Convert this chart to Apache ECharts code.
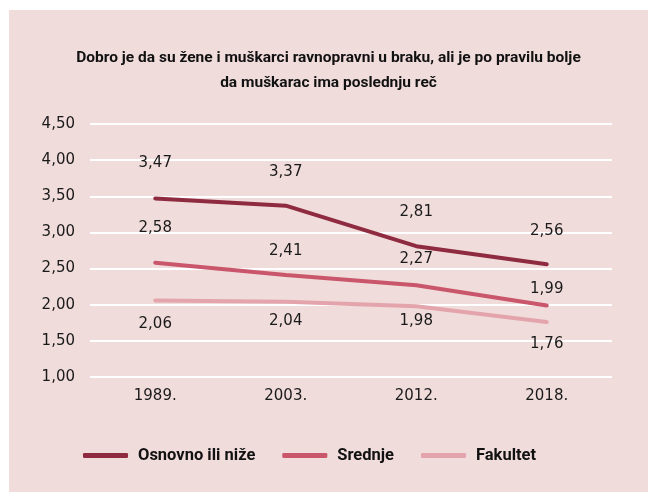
<!DOCTYPE html>
<html>
<head>
<meta charset="utf-8">
<script src="https://cdn.jsdelivr.net/npm/echarts@6/dist/echarts.min.js"></script>
<style>
  html, body { margin: 0; padding: 0; background: #fff; }
  #chart { position: absolute; left: 9px; top: 10px; width: 639px; height: 482px; background: #f1dcdc; }
</style>
</head>
<body>
<div id="chart"></div>
<script>
// podaci
var godine = ["1989.", "2003.", "2012.", "2018."];
var osnovno = [3.47, 3.37, 2.81, 2.56];
var srednje = [2.58, 2.41, 2.27, 1.99];
var fakultet = [2.06, 2.04, 1.98, 1.76];
var nazivi = ["Osnovno ili niže", "Srednje", "Fakultet"];

// pomeraj natpisa (px) u odnosu na tačku
var pomerajOsnovno = [-35, -34, -34, -33];
var pomerajSrednje = [-35, -24, -26, -16];
var pomerajFakultet = [24, 19, 15, 22];

var boje = ["#8f2b40", "#c9566b", "#e3a5ab"];

function napravi(values, offsets) {
  return values.map(function (v, i) {
    return { value: v, label: { offset: [0, offsets[i]] } };
  });
}

function serija(name, values, offsets, color) {
  return {
    name: name,
    type: "line",
    data: napravi(values, offsets),
    symbol: "circle",
    symbolSize: 1,
    itemStyle: { color: color },
    lineStyle: { color: color, width: 4, cap: "round" },
    label: {
      show: true,
      position: "inside",
      color: "#1a1a1a",
      fontSize: 15,
      fontFamily: "DejaVu Sans",
      formatter: function (p) { return p.value.toFixed(2).replace(".", ","); }
    },
    emphasis: { disabled: true },
    animation: false
  };
}

var chart = echarts.init(document.getElementById("chart"));
chart.setOption({
  backgroundColor: "#f1dcdc",
  title: {
    text: "Dobro je da su žene i muškarci ravnopravni u braku, ali je po pravilu bolje\nda muškarac ima poslednju reč",
    left: "center",
    top: 31,
    textStyle: {
      fontFamily: "Roboto",
      fontWeight: "bold",
      fontSize: 15.5,
      lineHeight: 25,
      color: "#111"
    }
  },
  legend: {
    data: nazivi,
    left: 69,
    top: 432,
    icon: "roundRect",
    itemWidth: 45,
    itemHeight: 5,
    itemGap: 27,
    textStyle: {
      fontFamily: "Roboto",
      fontWeight: "bold",
      fontSize: 16.5,
      color: "#111",
      padding: [0, 0, 0, 5]
    }
  },
  grid: { left: 81, right: 36, top: 114, bottom: 115 },
  xAxis: {
    type: "category",
    data: godine,
    boundaryGap: true,
    axisLine: { show: false },
    axisTick: { show: false },
    axisLabel: { color: "#1a1a1a", fontSize: 15, fontFamily: "DejaVu Sans", margin: 12 }
  },
  yAxis: {
    type: "value",
    min: 1,
    max: 4.5,
    interval: 0.5,
    axisLine: { show: false },
    axisTick: { show: false },
    splitLine: { lineStyle: { color: "#ffffff", width: 2 } },
    axisLabel: {
      color: "#1a1a1a",
      fontSize: 15,
      fontFamily: "DejaVu Sans",
      margin: 15,
      formatter: function (v) { return v.toFixed(2).replace(".", ","); }
    }
  },
  series: [
    serija(nazivi[0], osnovno, pomerajOsnovno, boje[0]),
    serija(nazivi[1], srednje, pomerajSrednje, boje[1]),
    serija(nazivi[2], fakultet, pomerajFakultet, boje[2])
  ]
});
</script>
</body>
</html>
